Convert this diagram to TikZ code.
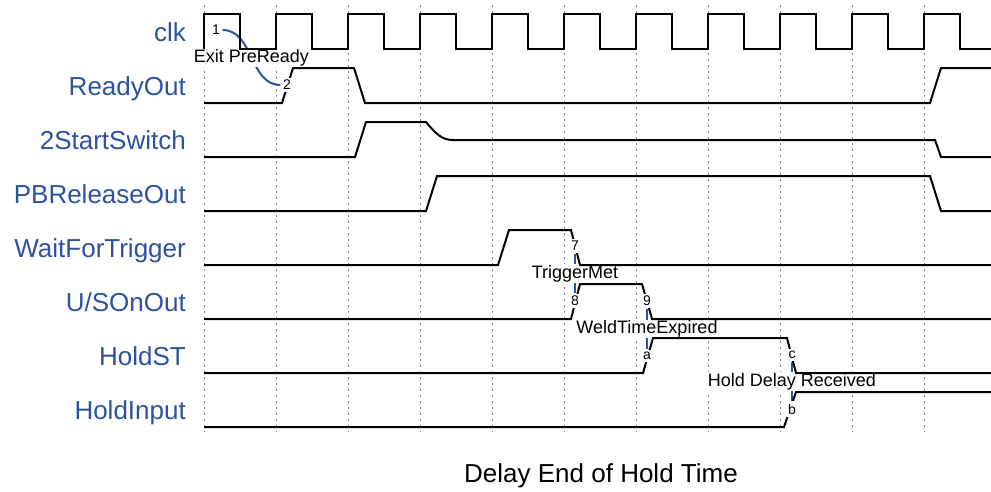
\documentclass[tikz,border=0pt]{standalone}
\usepackage{fontspec}
\setmainfont{Liberation Sans}
\usetikzlibrary{backgrounds}
\definecolor{sigblue}{RGB}{44,82,160}

\begin{document}
\begin{tikzpicture}[
        x=1pt, y=-1pt,
        % Define styles for the diagram
        sig_label/.style={anchor=base east, inner sep=0pt, text=sigblue, font=\fontsize{26}{30}\selectfont},
        num_label/.style={fill=white, inner sep=2.5pt, text=black, font=\fontsize{14}{16}\selectfont},
        note_label/.style={fill=white, inner sep=1pt, text=black, font=\fontsize{18}{21}\selectfont},
        title_label/.style={anchor=base, inner sep=0pt, font=\fontsize{26}{30}\selectfont},
        wave/.style={line width=2pt},
        grid_line/.style={gray, line width=1pt, dash pattern=on 2pt off 4pt},
        marker_line/.style={sigblue, line width=2pt}
    ]

    \useasboundingbox (0,0) rectangle (991,491);

    % ==============================================
    % === SIGNAL NAMES AND GRID ===
    % ==============================================
    \foreach \name [count=\i from 0] in {clk, ReadyOut, 2StartSwitch, PBReleaseOut, WaitForTrigger, U/SOnOut, HoldST, HoldInput}
        \node[sig_label] (sig_\i) at (186, {41+54*\i}) {\name};

    % dotted lines, one per clock period
    \begin{scope}[on background layer]
        \foreach \k in {0,...,10}
            \draw[grid_line] ({204+72*\k},5) -- ({204+72*\k},432);
    \end{scope}

    % ==============================================
    % === WAVEFORMS ===
    % ==============================================
    % clk
    \draw[wave] (204,49) \foreach \k in {0,...,9} { -- ({204+72*\k},14) -- ({240+72*\k},14) -- ({240+72*\k},49) -- ({276+72*\k},49) }
        -- (924,14) -- (960,14) -- (960,49) -- (991,49);

    % ReadyOut
    \draw[wave] (204,103) -- (282,103) -- (293,68) -- (354,68) -- (365,103) -- (930,103) -- (941,68) -- (991,68);

    % 2StartSwitch (goes to middle level)
    \draw[wave] (204,157) -- (355,157) -- (366,122) -- (426,122) .. controls (436,134) and (442,140) .. (453,140)
        -- (935,140) -- (941,157) -- (991,157);

    % PBReleaseOut
    \draw[wave] (204,211) -- (426,211) -- (437,176) -- (930,176) -- (941,211) -- (991,211);

    % WaitForTrigger
    \draw[wave] (204,265) -- (498,265) -- (509,230) -- (571,230) -- (580,265) -- (991,265);

    % U/SOnOut
    \draw[wave] (204,319) -- (571,319) -- (580,284) -- (642,284) -- (652,319) -- (991,319);

    % HoldST
    \draw[wave] (204,373) -- (643,373) -- (653,338) -- (787,338) -- (796,373) -- (991,373);

    % HoldInput
    \draw[wave] (204,427) -- (784,427) -- (796,392) -- (991,392);

    % ==============================================
    % === EVENT MARKS AND NOTES ===
    % ==============================================
    \node[num_label] (mark_1) at (216,30) {1};
    \node[num_label] (mark_2) at (287,85) {2};
    \node[num_label] (mark_7) at (575,246) {7};
    \node[num_label] (mark_8) at (575,301) {8};
    \node[num_label] (mark_9) at (647,301) {9};
    \node[num_label] (mark_a) at (647,356) {a};
    \node[num_label] (mark_c) at (792,355) {c};
    \node[num_label] (mark_b) at (792,409) {b};

    \begin{scope}[on background layer]
        \draw[marker_line] (mark_1) to[out=0, in=180] node[note_label] (note_exit) {Exit PreReady} (mark_2);
        \draw[marker_line] (mark_7) -- node[note_label] (note_trigger) {TriggerMet} (mark_8);
        \draw[marker_line] (mark_9) -- node[note_label] (note_weld) {WeldTimeExpired} (mark_a);
        \draw[marker_line] (mark_c) -- node[note_label] (note_hold) {Hold Delay Received} (mark_b);
    \end{scope}

    % Caption below
    \node[title_label] (title) at (601,482) {Delay End of Hold Time};

\end{tikzpicture}
\end{document}
